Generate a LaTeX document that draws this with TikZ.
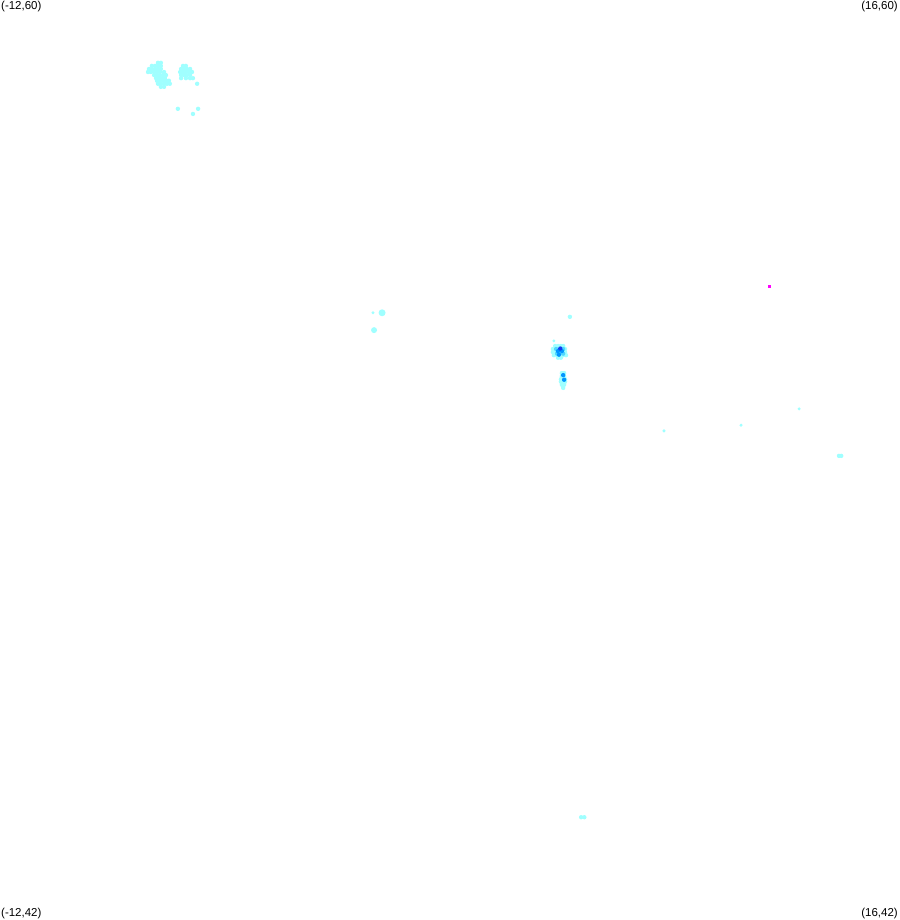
\documentclass[tikz,border=0pt]{standalone}
\usepackage{fontspec}
\setmainfont{Liberation Sans}
\definecolor{pale}{RGB}{160,255,255}
\definecolor{mid}{RGB}{80,215,255}
\definecolor{deep}{RGB}{0,150,255}
\definecolor{core}{RGB}{20,60,240}
\definecolor{hot}{RGB}{255,0,255}
\tikzset{
    corner/.style={inner sep=1pt, font=\fontsize{11.5}{13}\selectfont},
}
\newcommand{\Cells}[3]{
    \foreach \lon in {#2} {
        \fill[#1] (\lon,#3) circle[radius=2.2pt];
    }
}

\begin{document}
\begin{tikzpicture}[x=32.107pt,y=51.111pt]
        \useasboundingbox (-12,42) rectangle (16,60);
        % top left
        \Cells{pale}{-7.08,-6.99}{58.77}
        \Cells{pale}{-7.27,-7.17,-7.08,-6.99}{58.71}
        \Cells{pale}{-7.36,-7.27,-7.17,-7.08,-6.99}{58.65}
        \Cells{pale}{-7.39,-7.30,-7.20,-7.11,-7.02,-6.89}{58.59}
        \Cells{pale}{-7.20,-7.11,-7.02,-6.92,-6.83}{58.53}
        \Cells{pale}{-7.14,-7.05,-6.95,-6.86}{58.47}
        \Cells{pale}{-7.11,-7.02,-6.92,-6.83,-6.74}{58.42}
        \Cells{pale}{-7.08,-6.99,-6.89,-6.80,-6.71}{58.36}
        \Cells{pale}{-6.99,-6.89}{58.30}
        \Cells{pale}{-6.30,-6.21}{58.71}
        \Cells{pale}{-6.36,-6.27,-6.18,-6.08}{58.65}
        \Cells{pale}{-6.39,-6.30,-6.21,-6.11,-6.02}{58.59}
        \Cells{pale}{-6.36,-6.27,-6.18,-6.08}{58.53}
        \Cells{pale}{-6.36,-6.21,-6.08,-5.99}{58.47}
        \Cells{pale}{-5.86}{58.36}
        \Cells{pale}{-6.46,-5.83}{57.87}
        \Cells{pale}{-5.99}{57.77}
        % middle
        \fill[pale] (-0.38,53.88) circle[radius=1.6pt];
        \fill[pale] (-0.10,53.88) circle[radius=3.5pt];
        \fill[pale] (-0.35,53.54) circle[radius=3pt];
        \fill[pale] (5.75,53.80) circle[radius=2.2pt];
        \fill[pale] (5.25,53.33) circle[radius=1.6pt];
        \Cells{pale}{5.29,5.38,5.47,5.54}{53.23}
        \Cells{pale}{5.22,5.32,5.41,5.50,5.60}{53.17}
        \Cells{pale}{5.22,5.32,5.41,5.50,5.60}{53.11}
        \Cells{pale}{5.25,5.35,5.44,5.54,5.63}{53.05}
        \Cells{pale}{5.38,5.47}{53.00}
        \Cells{mid}{5.32,5.54}{53.17}
        \Cells{mid}{5.35,5.54}{53.08}
        \Cells{deep}{5.38,5.50}{53.13}
        \Cells{deep}{5.41}{53.06}
        \Cells{core}{5.45}{53.18}
        \Cells{pale}{5.50,5.57}{52.70}
        \Cells{pale}{5.50,5.57}{52.64}
        \Cells{pale}{5.47,5.54,5.60}{52.58}
        \Cells{pale}{5.47,5.54,5.60}{52.53}
        \Cells{pale}{5.50,5.57}{52.47}
        \Cells{pale}{5.54}{52.41}
        \Cells{deep}{5.54}{52.66}
        \Cells{deep}{5.57}{52.57}
        % right
        \fill[hot] (11.92,54.42) rectangle ++(3pt,-3pt);
        \fill[pale] (12.89,52.00) circle[radius=1.7pt];
        \fill[pale] (11.08,51.68) circle[radius=1.7pt];
        \fill[pale] (8.68,51.57) circle[radius=1.7pt];
        \Cells{pale}{14.13,14.20}{51.08}
        % bottom
        \Cells{pale}{6.10,6.20}{44.01}
        \node[corner, anchor=north west] (nw) at (-12,60) {(-12,60)};
        \node[corner, anchor=north east] (ne) at (16,60) {(16,60)};
        \node[corner, anchor=south west] (sw) at (-12,42) {(-12,42)};
        \node[corner, anchor=south east] (se) at (16,42) {(16,42)};
    \end{tikzpicture}
\end{document}
